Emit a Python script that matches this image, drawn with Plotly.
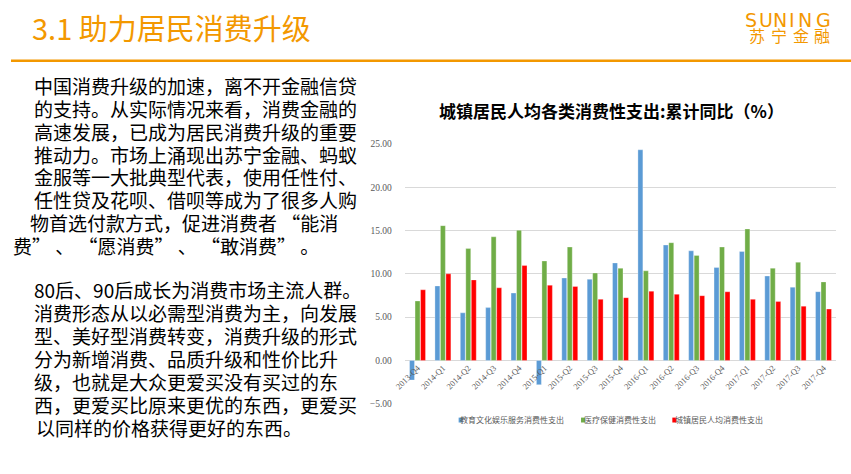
import plotly.graph_objects as go

W, H = 851, 474

categories = ["2013-Q4", "2014-Q1", "2014-Q2", "2014-Q3", "2014-Q4",
              "2015-Q1", "2015-Q2", "2015-Q3", "2015-Q4",
              "2016-Q1", "2016-Q2", "2016-Q3", "2016-Q4",
              "2017-Q1", "2017-Q2", "2017-Q3", "2017-Q4"]

series_names = ["教育文化娱乐服务消费性支出", "医疗保健消费性支出", "城镇居民人均消费性支出"]

edu_values = [-2.27, 8.60, 5.50, 6.10, 7.78, -2.80, 9.52, 9.37, 11.26,
              24.33, 13.33, 12.66, 10.73, 12.58, 9.75, 8.46, 7.94]
med_values = [6.87, 15.57, 12.92, 14.28, 15.04, 11.49, 13.10, 10.10, 10.65,
              10.35, 13.60, 12.13, 13.10, 15.19, 10.65, 11.34, 9.07]
total_values = [8.16, 10.00, 9.30, 8.39, 10.96, 8.69, 8.54, 7.06, 7.25,
                8.00, 7.63, 7.48, 7.93, 7.06, 6.80, 6.27, 5.93]

y_ticks = [-5, 0, 5, 10, 15, 20, 25]

colors = ["#5B9BD5", "#70AD47", "#FF0000"]

slide_title = "3.1 助力居民消费升级"
chart_title = "<b>城镇居民人均各类消费性支出:累计同比（%）</b>"
logo_en = "SUNING"
logo_cn = "苏宁金融"

OQ = "\u00a0“"   # opening quote with a little padding
CQ = "”\u00a0"   # closing quote with a little padding

para1 = ["中国消费升级的加速，离不开金融信贷",
         "的支持。从实际情况来看，消费金融的",
         "高速发展，已成为居民消费升级的重要",
         "推动力。市场上涌现出苏宁金融、蚂蚁",
         "金服等一大批典型代表，使用任性付、",
         "任性贷及花呗、借呗等成为了很多人购",
         "物首选付款方式，促进消费者" + OQ + "能消",
         "费" + CQ + "、" + OQ + "愿消费" + CQ + "、" + OQ + "敢消费" + CQ + "。"]
para2 = ["80后、90后成长为消费市场主流人群。",
         "消费形态从以必需型消费为主，向发展",
         "型、美好型消费转变，消费升级的形式",
         "分为新增消费、品质升级和性价比升",
         "级，也就是大众更爱买没有买过的东",
         "西，更爱买比原来更优的东西，更爱买",
         "以同样的价格获得更好的东西。"]

ORANGE = "#F39800"
CJK = "Noto Sans CJK SC"

def px(x):
    return x / W

def py(y):
    return 1 - y / H

def em_width(s):
    """Approximate rendered width (in em) of a string in Noto Sans CJK SC."""
    w = 0.0
    for ch in s:
        if ch in "“”":
            w += 0.28
        elif ch == "\u00a0":
            w += 0.47
        elif ch == " ":
            w += 0.224
        elif ch.isdigit():
            w += 0.555
        elif ch in ".:":
            w += 0.27
        elif ord(ch) >= 0x2E80:
            w += 1.0
        else:
            w += 0.6
    return w

fig = go.Figure()
for name, vals, col in zip(series_names, [edu_values, med_values, total_values], colors):
    fig.add_trace(go.Bar(x=categories, y=vals, name=name,
                         marker=dict(color=col, line=dict(color="rgba(255,255,255,0.5)", width=0.6)),
                         showlegend=False))

ymin, ymax = -5, 25
ydom = [py(407.3), py(142)]
xdom = [px(399), px(836)]
xpos = ydom[0] + (0 - ymin) / (ymax - ymin) * (ydom[1] - ydom[0])

def ann(x, y, text, size, color, family=CJK):
    return dict(x=px(x), y=py(y), xref="paper", yref="paper", text=text,
                showarrow=False, xanchor="center", yanchor="middle", align="center",
                borderpad=0, font=dict(family=family, size=size, color=color))

def ann_left(x_left, y, text, size, color, dx=None):
    # centre-anchored so the left edge lands at x_left (small empirical render correction)
    w = em_width(text) * size
    if dx is None:
        dx = -0.031 * w
    return ann(x_left + w / 2 + dx, y, text, size, color)

annotations = []
# slide title
annotations.append(ann_left(35, 22.5, slide_title, 29, ORANGE, dx=-12))
# logo letters (wide letter spacing as in the reference)
logo_en_x = [750, 764.5, 779.5, 791.5, 804.5, 823.5]
for ch, lx in zip(logo_en, logo_en_x):
    annotations.append(ann(lx, 15.5, ch, 19, ORANGE, family="DejaVu Sans"))
for i, ch in enumerate(logo_cn):
    annotations.append(ann(755.5 + i * 22.2, 30.5, ch, 16, ORANGE))
# body text
for i, line in enumerate(para1):
    annotations.append(ann_left(35, 82.5 + i * 23.3, line, 19, "#000000"))
for i, line in enumerate(para2):
    annotations.append(ann_left(35, 290.5 + i * 23.5, line, 19, "#000000"))
# chart title
annotations.append(ann(608, 108, chart_title, 17, "#000000"))

shapes = [dict(type="line", xref="paper", yref="paper", x0=0, x1=1, y0=py(57), y1=py(57),
               line=dict(color=ORANGE, width=2.5))]

# manual legend
leg_x = [455.5, 579.5, 672]
for name, col, lx in zip(series_names, colors, leg_x):
    shapes.append(dict(type="rect", xref="paper", yref="paper",
                       x0=px(lx - 2), x1=px(lx + 2), y0=py(426.5), y1=py(421.5),
                       fillcolor=col, line=dict(width=0)))
    annotations.append(ann_left(lx + 3.5, 423, name, 8, "#595959"))

fig.update_layout(
    width=W, height=H,
    margin=dict(l=0, r=0, t=0, b=0),
    paper_bgcolor="white", plot_bgcolor="white",
    barmode="group", bargap=0.35, bargroupgap=0.1,
    xaxis=dict(domain=xdom, anchor="free", position=xpos, type="category",
               tickangle=-45, showgrid=False, showline=False, ticks="",
               tickfont=dict(family="Liberation Serif", size=8.5, color="#595959")),
    yaxis=dict(domain=ydom, range=[ymin, ymax], tickvals=y_ticks, tickformat=".2f",
               showgrid=True, gridcolor="#D9D9D9", gridwidth=1,
               zeroline=True, zerolinecolor="#D9D9D9", zerolinewidth=1,
               showline=False, ticks="", ticklabelstandoff=12,
               tickfont=dict(family="Liberation Serif", size=9.5, color="#595959")),
    annotations=annotations,
    shapes=shapes,
)

fig.write_html("out.html")
